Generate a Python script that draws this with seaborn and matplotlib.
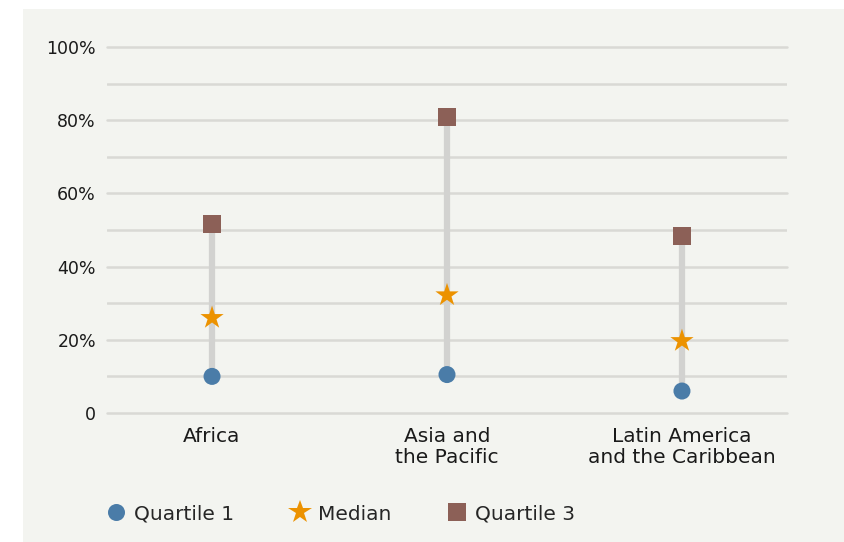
import matplotlib
matplotlib.use("Agg")
import matplotlib.pyplot as plt
from matplotlib.patches import Rectangle
from matplotlib.ticker import MultipleLocator, FuncFormatter
import pandas as pd
import seaborn as sns

regions = ["Africa", "Asia and\nthe Pacific", "Latin America\nand the Caribbean"]
quartile1 = [0.10, 0.105, 0.06]
median = [0.26, 0.322, 0.197]
quartile3 = [0.516, 0.808, 0.484]
series_names = ["Quartile 1", "Median", "Quartile 3"]

colors = {"Quartile 1": "#4a7ca8", "Median": "#ec9200", "Quartile 3": "#8c6057"}
markers = {"Quartile 1": "o", "Median": "*", "Quartile 3": "s"}
sizes = {"Quartile 1": 150, "Median": 310, "Quartile 3": 165}

bg = "#f3f4f0"
sns.set_theme(style="white")
plt.rcParams["font.family"] = ["DejaVu Sans"]

fig = plt.figure(figsize=(8.45, 5.42), dpi=100)
fig.patch.set_facecolor("white")
fig.patches.append(Rectangle((23 / 845, 0), 1 - 23 / 845, 1 - 9 / 542,
                             transform=fig.transFigure, facecolor=bg,
                             edgecolor="none", zorder=-5))

W, H = 845, 542
ax = fig.add_axes([107 / W, 1 - 413 / H, (787 - 107) / W, (413 - 47) / H])
ax.set_zorder(2)
ax.patch.set_alpha(0)

rows = []
for i, r in enumerate(regions):
    for name, vals in zip(series_names, [quartile1, median, quartile3]):
        rows.append({"pos": i, "Region": r, "Series": name, "Value": vals[i]})
df = pd.DataFrame(rows)

# range bars from Q1 to Q3
ax.vlines(range(len(regions)), quartile1, quartile3, color="#d2d2d0",
          linewidth=4.5, zorder=2)

sns.scatterplot(data=df, x="pos", y="Value", hue="Series", style="Series",
                size="Series", palette=colors, markers=markers, sizes=sizes,
                linewidth=0, ax=ax, zorder=3)

ax.set_xlim(-0.447, 2.447)
ax.set_ylim(0, 1.0)
ax.yaxis.set_major_locator(MultipleLocator(0.2))
ax.yaxis.set_minor_locator(MultipleLocator(0.1))
ax.yaxis.set_major_formatter(FuncFormatter(lambda v, _: "0" if abs(v) < 1e-9 else f"{v*100:.0f}%"))
ax.grid(True, which="both", axis="y", color="#d9d9d5", linewidth=1.8)
ax.set_axisbelow(True)
ax.set_xticks(range(len(regions)))
ax.set_xticklabels(regions, fontsize=14.5, color="#1a1a1a", linespacing=1.12)
ax.tick_params(axis="y", labelsize=12.5, colors="#1a1a1a", length=0, pad=8)
ax.tick_params(axis="x", length=0, pad=10)
for s in ax.spines.values():
    s.set_visible(False)
ax.set_xlabel("")
ax.set_ylabel("")
for t in ax.yaxis.get_major_ticks():
    t.gridline.set_clip_on(False)

handles, labels = ax.get_legend_handles_labels()
ax.legend(handles, labels, loc="center left", bbox_to_anchor=(106 / W, 1 - 514 / H),
          bbox_transform=fig.transFigure, ncol=3, frameon=False, fontsize=14.5,
          handlelength=1.0, handletextpad=0.4, columnspacing=2.75,
          borderaxespad=0, borderpad=0)

fig.savefig("out.png", dpi=100, facecolor="white")
